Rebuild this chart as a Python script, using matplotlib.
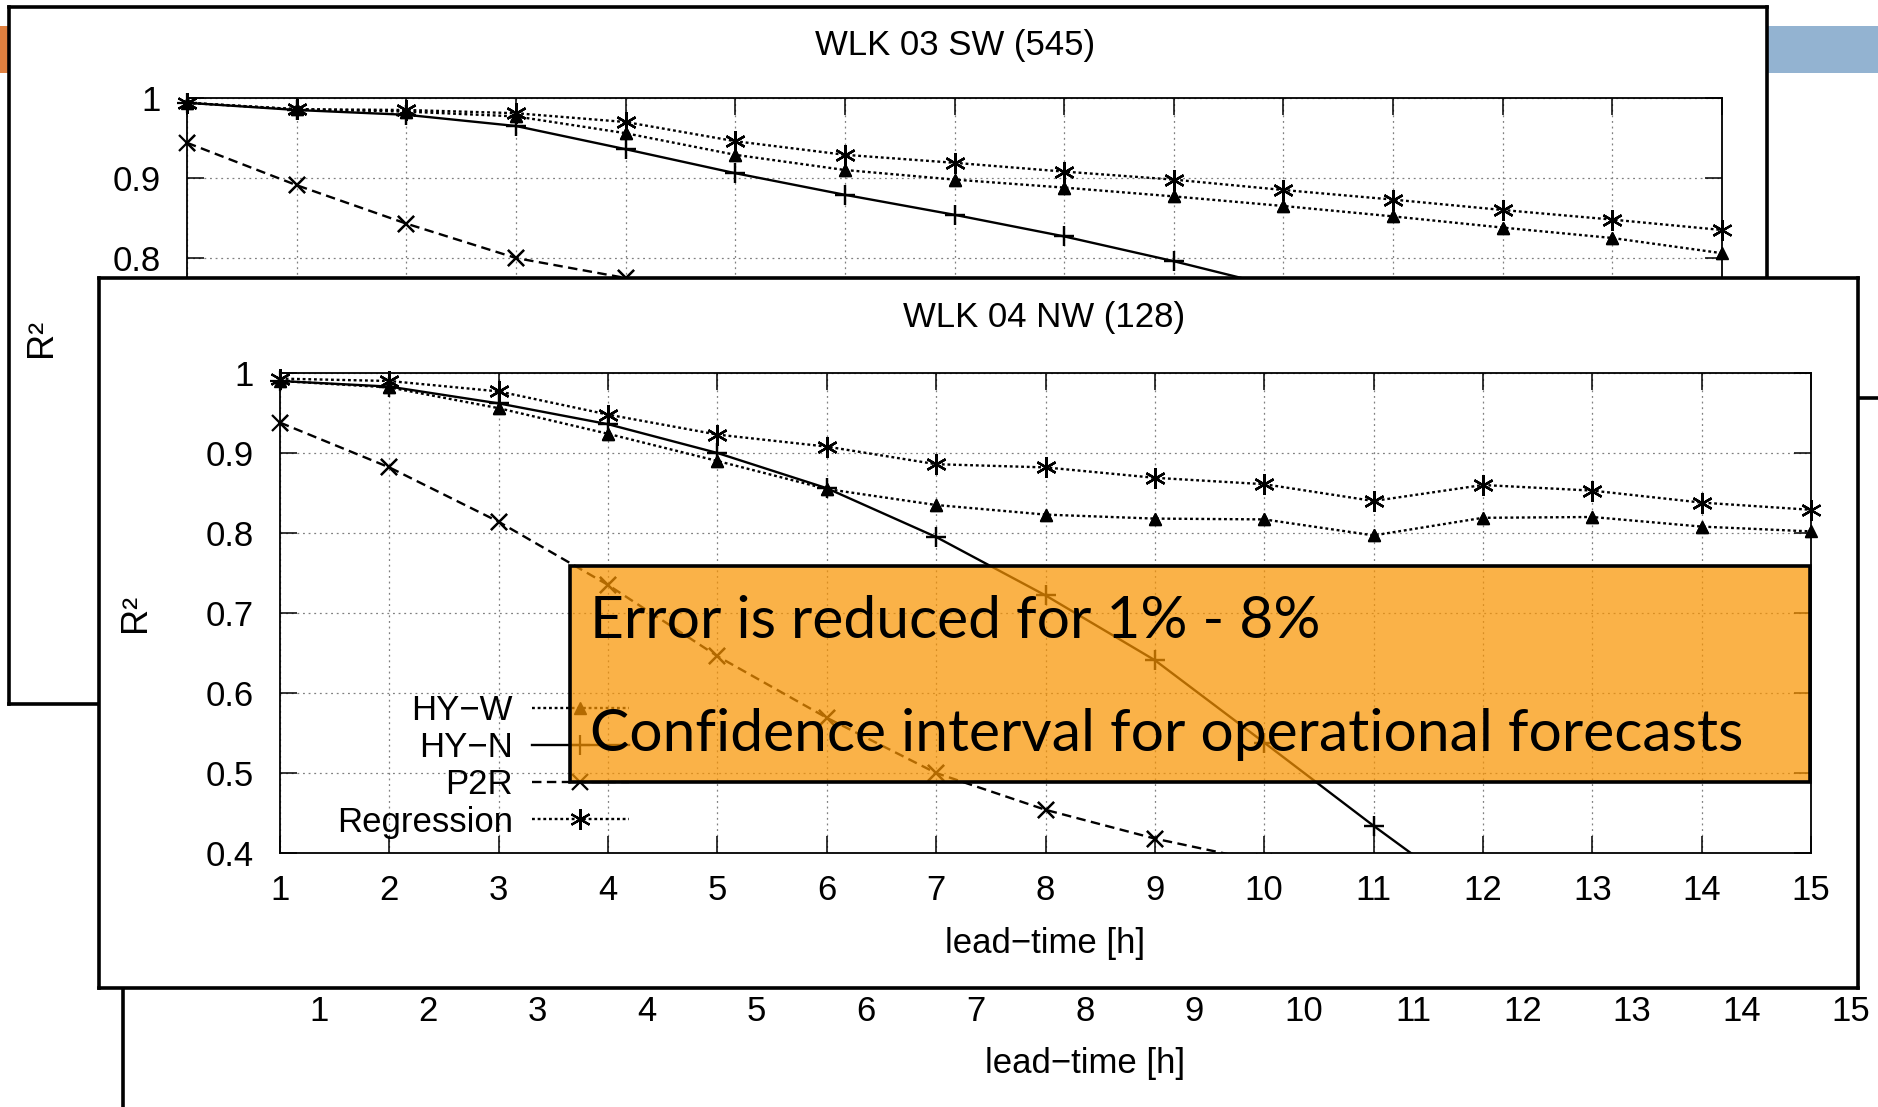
import matplotlib
matplotlib.use("Agg")
import numpy as np
import matplotlib.pyplot as plt
from matplotlib.patches import Rectangle
from matplotlib.ticker import FixedLocator, FuncFormatter

# ---------------------------------------------------------------- data
lead_time = list(range(1, 16))
r2_ticks = [0.4, 0.5, 0.6, 0.7, 0.8, 0.9, 1.0]
series_labels = ["HY\u2212W", "HY\u2212N", "P2R", "Regression"]
xlabel_text = "lead\u2212time [h]"
ylabel_text = "R\u00b2"

sw_title = "WLK 03 SW (545)"
sw_hyw = [0.994, 0.986, 0.983, 0.977, 0.956, 0.929, 0.910, 0.898, 0.888, 0.877, 0.865, 0.852, 0.838, 0.825, 0.806]
sw_hyn = [0.994, 0.985, 0.979, 0.965, 0.936, 0.906, 0.879, 0.854, 0.827, 0.796, 0.762, 0.730, 0.690, 0.650, 0.610]
sw_p2r = [0.944, 0.891, 0.843, 0.800, 0.775, 0.740, 0.700, 0.660, 0.620, 0.580, 0.540, 0.500, 0.460, 0.430, 0.400]
sw_reg = [0.994, 0.986, 0.985, 0.981, 0.970, 0.946, 0.929, 0.919, 0.908, 0.898, 0.885, 0.873, 0.860, 0.848, 0.835]

nw_title = "WLK 04 NW (128)"
nw_hyw = [0.990, 0.982, 0.956, 0.924, 0.890, 0.855, 0.835, 0.823, 0.818, 0.817, 0.797, 0.819, 0.820, 0.808, 0.802]
nw_hyn = [0.990, 0.983, 0.962, 0.936, 0.900, 0.856, 0.795, 0.722, 0.641, 0.538, 0.434, 0.334, 0.250, 0.170, 0.100]
nw_p2r = [0.938, 0.882, 0.814, 0.735, 0.646, 0.569, 0.500, 0.454, 0.418, 0.389, 0.360, 0.330, 0.300, 0.270, 0.240]
nw_reg = [0.993, 0.990, 0.977, 0.948, 0.923, 0.908, 0.886, 0.882, 0.869, 0.861, 0.840, 0.860, 0.853, 0.838, 0.829]

note_lines = ["Error is reduced for 1% - 8%",
              "Confidence interval for operational forecasts"]

# ---------------------------------------------------------------- setup
W, H, DPI = 1878, 1107, 100
plt.rcParams["font.family"] = ["Liberation Sans", "DejaVu Sans"]
FS = 25

fig = plt.figure(figsize=(W / DPI, H / DPI), dpi=DPI)
fig.patch.set_facecolor("white")


def rect(x0, y0, x1, y1):
    """Pixel box (top-left origin) -> figure fraction [l, b, w, h]."""
    return [x0 / W, 1 - y1 / H, (x1 - x0) / W, (y1 - y0) / H]


def fig_xy(x, y):
    return x / W, 1 - y / H


# slide header bars
for (x0, y0, x1, y1), col in [((0, 26, 400, 73), "#E0803F"),
                               ((1700, 26, 1900, 73), "#93B3D1")]:
    fig.patches.append(Rectangle(fig_xy(x0, y1), (x1 - x0) / W, (y1 - y0) / H,
                                 transform=fig.transFigure, facecolor=col,
                                 edgecolor="none", zorder=0.5))


def panel(x0, y0, x1, y1, z):
    a = fig.add_axes(rect(x0, y0, x1, y1), zorder=z)
    a.set_xticks([])
    a.set_yticks([])
    a.set_facecolor("white")
    for s in a.spines.values():
        s.set_linewidth(2.6)
        s.set_color("black")
    return a


def chart(x0, y0, x1, y1, z):
    ax = fig.add_axes(rect(x0, y0, x1, y1), zorder=z)
    ax.set_facecolor("none")
    ax.set_xlim(1, 15)
    ax.set_ylim(0.4, 1.0)
    ax.xaxis.set_major_locator(FixedLocator(lead_time))
    ax.yaxis.set_major_locator(FixedLocator(r2_ticks))
    ax.yaxis.set_major_formatter(FuncFormatter(lambda v, p: f"{v:g}"))
    ax.tick_params(direction="in", length=12, width=1.1, top=True, right=True,
                   labelsize=FS, colors="black")
    ax.tick_params(axis="x", pad=15)
    ax.tick_params(axis="y", pad=19)
    ax.set_axisbelow(True)
    ax.grid(True, color="#808080", lw=0.9, ls=(0, (1.5, 3)))
    for s in ax.spines.values():
        s.set_linewidth(1.3)
    ax.set_xlabel(xlabel_text, fontsize=FS)
    ax.xaxis.set_label_coords(0.5, -90 / (y1 - y0))
    ax.xaxis.label.set_va("center")
    ax.set_ylabel(ylabel_text, fontsize=FS + 1)
    ax.yaxis.set_label_coords(-145 / (x1 - x0), 0.5)
    ax.yaxis.label.set_va("center")
    return ax


def draw_series(ax, hyw, hyn, p2r, reg):
    x = np.array(lead_time)
    styles = [
        (hyw, dict(ls=(0, (1.2, 1.2)), marker="^", ms=9, mew=1.0)),
        (hyn, dict(ls="-", marker="+", ms=14, mew=1.6)),
        (p2r, dict(ls=(0, (4, 2.3)), marker="x", ms=12, mew=1.6)),
        (reg, dict(ls=(0, (1.2, 1.2)), marker=(6, 2, 0), ms=15, mew=1.6)),
    ]
    handles = []
    for vals, st in styles:
        v = np.array(vals)
        h, = ax.plot(x, v, color="black", lw=1.7, **st)
        handles.append(h)
        inside = np.ma.masked_where(v < 0.4, v)
        ax.plot(x, inside, color="black", ls="none", marker=st["marker"],
                ms=st["ms"], mew=st["mew"], clip_on=False)
    return handles


# ---------------------------------------------------------------- lowest panel (only its axis labels peek out)
panel(123, 398, 1950, 1200, 1)
ax3 = chart(319, 493, 1851, 974, 1.5)

# ---------------------------------------------------------------- WLK 03 SW
panel(9, 7, 1767, 704, 2)
ax1 = chart(187, 98, 1722, 578, 2.5)
draw_series(ax1, sw_hyw, sw_hyn, sw_p2r, sw_reg)
fig.text(*fig_xy(955, 46), sw_title, ha="center", va="center", fontsize=FS, zorder=2.6)

# ---------------------------------------------------------------- WLK 04 NW
panel(99, 278, 1858, 988, 3)
ax2 = chart(280, 373, 1811, 853, 3.5)
handles = draw_series(ax2, nw_hyw, nw_hyn, nw_p2r, nw_reg)
fig.text(*fig_xy(1044, 318), nw_title, ha="center", va="center", fontsize=FS, zorder=3.6)

leg = ax2.legend(handles, series_labels, loc="lower right",
                 bbox_to_anchor=((629 - 280) / 1531, 0.03),
                 frameon=False, markerfirst=False, handlelength=2.8,
                 handletextpad=0.55, labelspacing=0.12, borderpad=0,
                 borderaxespad=0, fontsize=FS, numpoints=1)
for col in leg._legend_handle_box.get_children():
    col.align = "right"

# ---------------------------------------------------------------- highlighted note
fig.patches.append(Rectangle(fig_xy(570, 782), (1810 - 570) / W, (782 - 566) / H,
                             transform=fig.transFigure,
                             facecolor=(0.976, 0.58, 0.004, 0.72),
                             edgecolor="black", lw=2.6, zorder=4))
t1 = fig.text(*fig_xy(590, 638), note_lines[0], family=["Lato", "DejaVu Sans"],
              fontsize=40, va="baseline", ha="left", zorder=4.5)
t2 = fig.text(*fig_xy(590, 751), note_lines[1], family=["Lato", "DejaVu Sans"],
              fontsize=40, va="baseline", ha="left", zorder=4.5)
fig.canvas.draw()
w2 = t2.get_window_extent().width
fs = 40 * 1153 / w2
t1.set_fontsize(fs)
t2.set_fontsize(fs)

fig.savefig("out.png", dpi=DPI, facecolor="white")
